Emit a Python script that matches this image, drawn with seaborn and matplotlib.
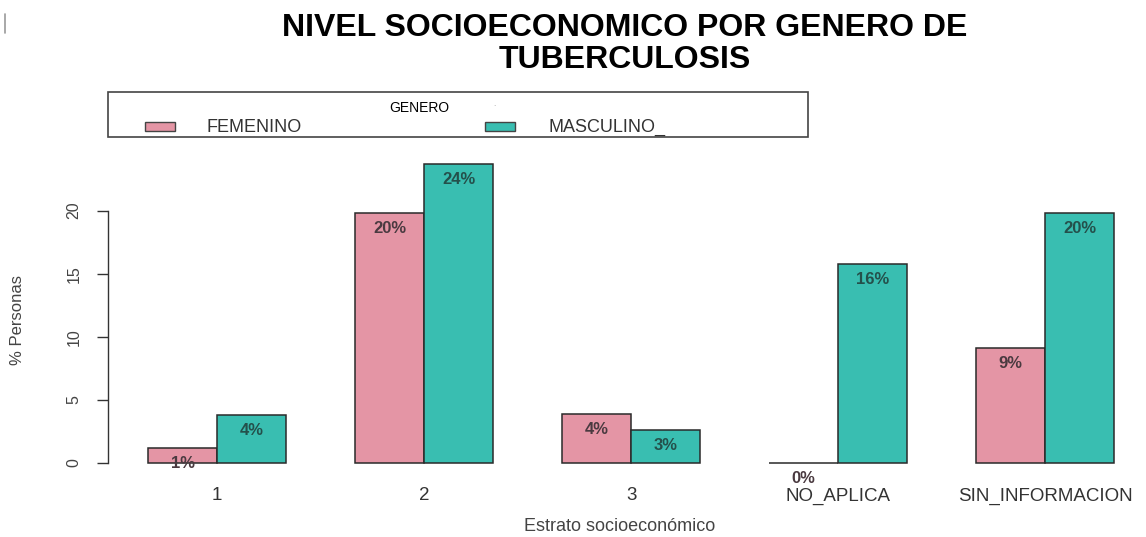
import matplotlib
matplotlib.use("Agg")
import matplotlib.pyplot as plt
import seaborn as sns
import pandas as pd
from matplotlib.patches import Rectangle
from matplotlib.lines import Line2D

# Data: % of persons by socioeconomic stratum and gender
estratos = ["1", "2", "3", "NO_APLICA", "SIN_INFORMACION"]
femenino = [1.2, 19.8, 3.9, 0.0, 9.1]
masculino = [3.8, 23.7, 2.6, 15.8, 19.8]
generos = ["FEMENINO", "MASCULINO_"]
colores = ["#E495A5", "#39BEB1"]
colores_texto = ["#4a3a40", "#24504b"]
y_ticks = [0, 5, 10, 15, 20]

df = pd.DataFrame({
    "estrato": estratos * 2,
    "pct": femenino + masculino,
    "genero": [generos[0]] * len(estratos) + [generos[1]] * len(estratos),
})

sns.set_theme(style="white")
plt.rcParams["font.family"] = ["Liberation Sans", "DejaVu Sans"]

W, H = 1146, 537
fig = plt.figure(figsize=(W / 100, H / 100), dpi=100)
ax = fig.add_axes([108 / W, 1 - 475 / H, (W - 108) / W, (475 - 152) / H])

sns.barplot(data=df, x="estrato", y="pct", hue="genero", order=estratos,
            hue_order=generos, palette=colores, width=2 / 3, gap=0,
            edgecolor="#2a2a2a", linewidth=1.1, saturation=1,
            legend=False, ax=ax)

ax.set_xlim(-0.527, -0.527 + (W - 108) / 207)
ax.set_ylim(-0.95, 24.65)

# value labels just inside the top of each bar
for cont, tc in zip(ax.containers, colores_texto):
    for bar in cont:
        h = bar.get_height()
        xc = bar.get_x() + bar.get_width() / 2
        ax.text(xc, h - 1.25, f"{round(h)}%", ha="center", va="center",
                fontsize=12, fontweight="bold", color=tc, clip_on=False)

# R-like axes: only a left axis spanning the ticks
for s in ["top", "right", "bottom"]:
    ax.spines[s].set_visible(False)
ax.spines["left"].set_bounds(0, 20)
ax.spines["left"].set_color("#333333")
ax.spines["left"].set_linewidth(1.0)
ax.set_yticks(y_ticks)
ax.set_yticklabels([str(t) for t in y_ticks], rotation=90, va="center",
                   fontsize=11.5, color="#444444")
ax.tick_params(axis="y", direction="out", length=8, width=1.0,
               color="#333333", pad=11, left=True)
ax.tick_params(axis="x", length=0, pad=9, labelsize=13.5, labelcolor="#333333")
ax.set_xlabel("Estrato socioeconómico", fontsize=13, color="#444444")
ax.xaxis.set_label_coords((620 - 108) / (W - 108), -(518 - 475) / (475 - 152))
ax.set_ylabel("% Personas", fontsize=12, color="#444444")
ax.yaxis.set_label_coords(-(108 - 25) / (W - 108), (475 - 320) / (475 - 152))

# title
fig.text(625 / W, 1 - 44 / H, "NIVEL SOCIOECONOMICO POR GENERO DE\nTUBERCULOSIS",
         ha="center", va="center", fontsize=23, fontweight="bold",
         color="black", linespacing=1.05)

# small mark at the top-left corner
fig.add_artist(Line2D([5 / W, 5 / W], [1 - 14 / H, 1 - 33 / H],
                      transform=fig.transFigure, color="#9a9a9a", linewidth=1.2))

# legend box in R style
fig.patches.append(Rectangle((108 / W, 1 - 137 / H), 700 / W, 45 / H,
                             transform=fig.transFigure, facecolor="white",
                             edgecolor="#444444", linewidth=1.2))
fig.text(419 / W, 1 - 108 / H, "GENERO", ha="center", va="center",
         fontsize=10, color="black")
fig.text(494 / W, 1 - 104 / H, ".", ha="center", va="center",
         fontsize=6, color="#999999")
sw_x = [145, 485]
tx_x = [206, 548]
for gx, tx, col, lab in zip(sw_x, tx_x, colores, generos):
    fig.patches.append(Rectangle((gx / W, 1 - 131 / H), 30 / W, 9 / H,
                                 transform=fig.transFigure, facecolor=col,
                                 edgecolor="#444444", linewidth=1.0))
    fig.text(tx / W, 1 - 127 / H, lab, ha="left", va="center",
             fontsize=13, color="#333333")

fig.savefig("out.png", dpi=100)
